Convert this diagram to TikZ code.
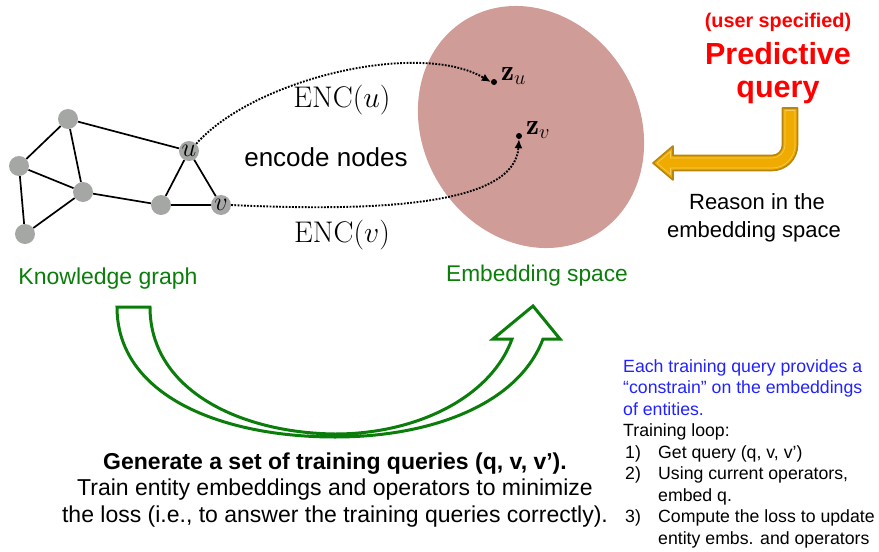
\RequirePackage{fix-cm}
\documentclass[tikz,border=0pt]{standalone}
\usepackage{graphicx}
\usepackage{fontspec}
\newfontfamily\arial{Liberation Sans}
\usetikzlibrary{arrows.meta,backgrounds}
\definecolor{gnode}{HTML}{A5A7A5}
\definecolor{kgreen}{HTML}{0A7D0A}
\definecolor{embfill}{HTML}{D09C97}
\definecolor{gold}{HTML}{F0AB00}
\definecolor{goldedge}{HTML}{B8860B}
\definecolor{goldline}{HTML}{F7CC55}
\definecolor{qblue}{HTML}{2222FF}
\definecolor{qred}{HTML}{FF0000}
\newcommand{\fs}[1]{\fontsize{#1}{#1}\selectfont}
\tikzset{
  gv/.style={circle, fill=gnode, minimum size=20pt, inner sep=0pt},
  gedge/.style={line width=1.7pt, black},
  encarrow/.style={dash pattern=on 1.8pt off 1.4pt, line width=1.9pt, -{Latex[length=9pt,width=8pt]}},
  sans/.style={font=\arial},
  dotpt/.style={circle, fill=black, minimum size=6pt, inner sep=0pt},
  rline/.style={sans, anchor=base west, inner sep=0pt, font=\arial\fs{17.7}},
  bline/.style={sans, anchor=base, inner sep=0pt, font=\arial\fs{23}},
}
\begin{document}
\begin{tikzpicture}[x=1pt,y=-1pt]
\useasboundingbox (0,0) rectangle (879,552);
% graph nodes
\node[gv] (A) at (68,119) {};
\node[gv] (B) at (19,166) {};
\node[gv] (C) at (83,192) {};
\node[gv] (D) at (25,234) {};
\node[gv] (u) at (189,151) {\scalebox{1.25}{\fs{21}$u$}};
\node[gv] (w) at (161,205) {};
\node[gv] (v) at (221,205) {\scalebox{1.25}{\fs{21}$v$}};
\begin{scope}[on background layer]
  \fill[embfill, rotate around={31.6:(531,127)}] (531,127) ellipse [x radius=108, y radius=125.6];
  \draw[gedge] (A) -- (u);
  \draw[gedge] (A) -- (B);
  \draw[gedge] (A) -- (C);
  \draw[gedge] (B) -- (C);
  \draw[gedge] (B) -- (D);
  \draw[gedge] (C) -- (D);
  \draw[gedge] (C) -- (w);
  \draw[gedge] (w) -- (u);
  \draw[gedge] (w) -- (v);
  \draw[gedge] (u) -- (v);
\end{scope}
% embedding points
\node[dotpt] (zu) at (494,82) {};
\node[dotpt] (zv) at (519,136) {};
\node[anchor=base west, inner sep=0pt] (zul) at (501,80) {\scalebox{1.39}{\fs{21}$\mathbf{z}_u$}};
\node[anchor=base west, inner sep=0pt] (zvl) at (526,134) {\scalebox{1.39}{\fs{21}$\mathbf{z}_v$}};
% encoder arrows
\draw[encarrow] (u.north east) .. controls (255,78) and (420,40) .. (zu.west);
\draw[encarrow] (v.east) .. controls (380,212) and (515,205) .. (zv.south);
\node (encu) at (342,100) {\scalebox{1.27}{\fs{23.5}$\mathrm{ENC}(u)$}};
\node (encv) at (342,235) {\scalebox{1.27}{\fs{23.5}$\mathrm{ENC}(v)$}};
\node[sans] (enc) at (326,157) {\fs{26}encode nodes};
% labels
\node[sans, text=kgreen] (kg) at (108,279) {\fs{23}Knowledge graph};
\node[sans, text=kgreen] (es) at (537,276) {\fs{22.7}Embedding space};
% predictive query
\node[sans, text=qred] (us) at (778,22) {\fs{19.8}\bfseries (user specified)};
\node[sans, text=qred] (pq) at (778,54) {\fs{30.5}\bfseries Predictive};
\node[sans, text=qred] (pq2) at (778,92) {\fs{30.5}\bfseries query};
\fill[gold, draw=goldedge, line width=1.6pt, line join=round]
  (797.5,108) -- (797.5,145) arc[start angle=0, end angle=90, radius=25.5]
  -- (673,170.5) -- (673,180) -- (653,163) -- (673,146) -- (673,155.5)
  -- (772,155.5) arc[start angle=90, end angle=0, radius=10.5]
  -- (782.5,108) -- cycle;
\draw[goldline, line width=0.6pt, line join=round]
  (795,110.5) -- (795,145) arc[start angle=0, end angle=90, radius=23]
  -- (670.5,168) -- (670.5,174.5) -- (657,163) -- (670.5,151.5) -- (670.5,158)
  -- (772,158) arc[start angle=90, end angle=0, radius=13]
  -- (785,110.5) -- cycle;
\node[sans, anchor=base] (reason1) at (757,209) {\fs{22}Reason in the};
\node[sans, anchor=base] (reason2) at (754,237) {\fs{22}embedding space};
% green curved arrow
\draw[kgreen, line width=3pt, line join=miter]
  (117,307) -- (150,307) .. controls (150,390) and (240,433) .. (335,434)
  .. controls (420,434) and (492,395) .. (512,339) -- (493,339) -- (533,306)
  -- (560,339) -- (543,339) .. controls (518,405) and (430,437) .. (335,437)
  .. controls (220,437) and (117,395) .. (117,307) -- cycle;
% bottom text
\node[bline] (gen1) at (335,469) {\bfseries Generate a set of training queries (q, v, v’).};
\node[bline] (gen2) at (335,495.5) {Train entity embeddings and operators to minimize};
\node[bline] (gen3) at (335,522) {the loss (i.e., to answer the training queries correctly).};
% right text
\node[rline, text=qblue] (e1) at (623,372) {Each training query provides a};
\node[rline, text=qblue] (e2) at (623,393.5) {“constrain” on the embeddings};
\node[rline, text=qblue] (e3) at (623,415) {of entities.};
\node[rline] (tl) at (623,436.5) {Training loop:};
\node[rline] (n1) at (625,458) {1)};
\node[rline] (t1) at (658,458) {Get query (q, v, v’)};
\node[rline] (n2) at (625,479.5) {2)};
\node[rline] (t2) at (658,479.5) {Using current operators,};
\node[rline] (t2b) at (658,501) {embed q.};
\node[rline] (n3) at (625,522.5) {3)};
\node[rline] (t3) at (658,522.5) {Compute the loss to update};
\node[rline] (t3b) at (658,544) {entity embs. and operators};
\end{tikzpicture}
\end{document}
